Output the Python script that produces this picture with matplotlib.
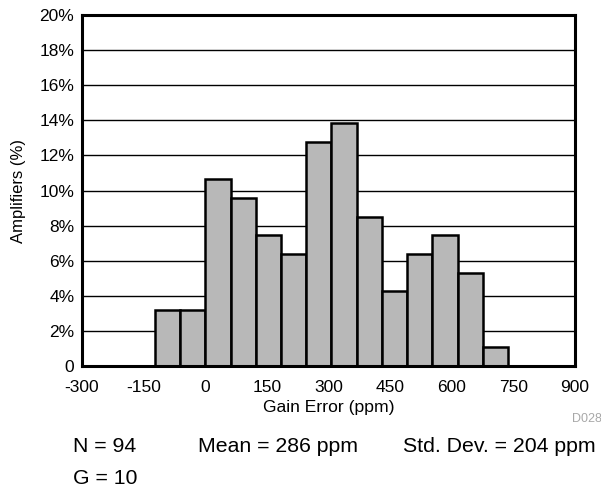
import matplotlib.pyplot as plt

# histogram data (bin width ~61.4 ppm)
bin_left = [-122.5, -61.1, 0.3, 61.7, 123.1, 184.5, 245.9, 307.3,
            368.7, 430.1, 491.5, 552.9, 614.3, 675.7]
bin_width = 61.4
pct = [3.19, 3.19, 10.64, 9.57, 7.45, 6.38, 12.77, 13.83,
       8.51, 4.26, 6.38, 7.45, 5.32, 1.06]

x_ticks = [-300, -150, 0, 150, 300, 450, 600, 750, 900]
y_ticks = [0, 2, 4, 6, 8, 10, 12, 14, 16, 18, 20]
y_labels = ['0'] + ['%d%%' % v for v in y_ticks[1:]]

plt.rcParams['font.family'] = ['Liberation Sans', 'DejaVu Sans']

fig = plt.figure(figsize=(6.01, 4.87), dpi=100)
ax = fig.add_axes([0.1364, 0.2485, 0.8203, 0.7205])

ax.set_axisbelow(True)
ax.yaxis.grid(True, color='black', linewidth=1.0)
ax.bar(bin_left, pct, width=bin_width, align='edge',
       color='#b8b8b8', edgecolor='black', linewidth=1.8)

ax.set_xlim(-300, 900)
ax.set_ylim(0, 20)
ax.set_xticks(x_ticks)
ax.set_xticklabels([str(v) for v in x_ticks], fontsize=12.5)
ax.set_yticks(y_ticks)
ax.set_yticklabels(y_labels, fontsize=12.5)
ax.tick_params(axis='x', length=0, pad=10)
ax.tick_params(axis='y', length=0, pad=5.5)
for s in ax.spines.values():
    s.set_linewidth(2.2)

ax.set_xlabel('Gain Error (ppm)', fontsize=12.6, labelpad=4)
ax.set_ylabel('Amplifiers (%)', fontsize=12, labelpad=10)

fig.text(0.952, 0.139, 'D028', fontsize=9, color='#a8a8a8', va='center')
fig.text(0.122, 0.084, 'N = 94', fontsize=15.3, va='center')
fig.text(0.329, 0.084, 'Mean = 286 ppm', fontsize=15.3, va='center')
fig.text(0.670, 0.084, 'Std. Dev. = 204 ppm', fontsize=15.3, va='center')
fig.text(0.122, 0.017, 'G = 10', fontsize=15.3, va='center')

fig.savefig('out.png', dpi=100)
